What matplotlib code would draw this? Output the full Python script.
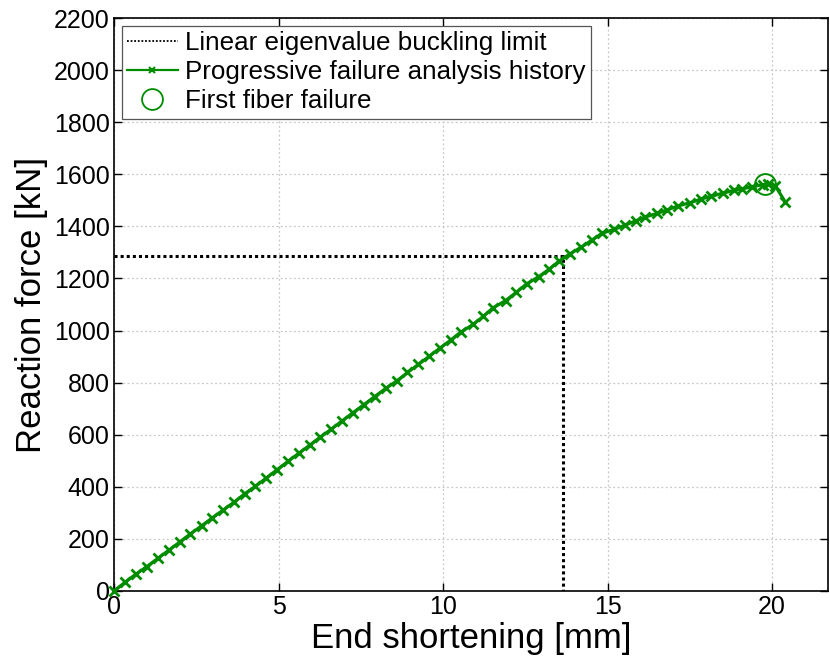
import matplotlib
matplotlib.use("Agg")
import matplotlib.pyplot as plt

plt.rcParams['font.family'] = ['Liberation Sans', 'DejaVu Sans']

# Progressive failure analysis history
shortening = [0.00, 0.33, 0.67, 1.00, 1.33, 1.67, 2.00, 2.31, 2.66, 2.99,
              3.32, 3.65, 3.97, 4.30, 4.63, 4.96, 5.29, 5.63, 5.95, 6.27,
              6.60, 6.93, 7.26, 7.59, 7.92, 8.26, 8.60, 8.92, 9.25, 9.58,
              9.91, 10.23, 10.54, 10.92, 11.22, 11.52, 11.90, 12.23, 12.54, 12.91,
              13.22, 13.52, 13.85, 14.20, 14.52, 14.84, 15.19, 15.52, 15.85, 16.15,
              16.51, 16.81, 17.13, 17.52, 17.84, 18.14, 18.52, 18.83, 19.10, 19.40,
              19.72, 19.88, 20.10, 20.40]
force = [0, 33, 65, 94, 125, 157, 188, 218, 250, 281,
         311, 341, 373, 402, 434, 466, 498, 530, 560, 591,
         621, 653, 684, 715, 746, 778, 807, 839, 870, 901,
         933, 963, 994, 1024, 1054, 1087, 1115, 1147, 1179, 1207,
         1235, 1266, 1294, 1320, 1347, 1374, 1388, 1404, 1421, 1436,
         1450, 1463, 1478, 1491, 1505, 1515, 1528, 1538, 1544, 1553,
         1560, 1561, 1555, 1494]

# Linear eigenvalue buckling limit
buckling_x = [0, 13.65, 13.65]
buckling_y = [1288, 1288, 0]

# First fiber failure
ffail_x = [19.80]
ffail_y = [1561]

fig = plt.figure(figsize=(8.3, 6.6), dpi=100)
ax = fig.add_axes([114/830, 1 - 591/660, (828-114)/830, (591-18)/660])

ax.plot(buckling_x, buckling_y, color='black', linestyle=(0, (1.0, 1.0)), lw=2.2,
        label='Linear eigenvalue buckling limit')
ax.plot(shortening, force, color='#008c00', lw=2.3, marker='x', markersize=7,
        markeredgewidth=2.0, label='Progressive failure analysis history',
        clip_on=False, zorder=3)
ax.plot(ffail_x, ffail_y, linestyle='none', marker='o', markersize=15,
        markerfacecolor='none', markeredgecolor='#008c00', markeredgewidth=1.4,
        label='First fiber failure', zorder=4)

ax.set_xlim(0, 21.7)
ax.set_ylim(0, 2200)
ax.set_xticks([0, 5, 10, 15, 20])
ax.set_yticks(range(0, 2201, 200))
ax.tick_params(direction='in', labelsize=18, length=6, top=True, right=True,
               width=1, pad=3)
ax.grid(True, color='#c8c8c8', linestyle=(0, (1.5, 2)), lw=0.9)
ax.set_axisbelow(True)
for s in ax.spines.values():
    s.set_linewidth(1.2)

ax.set_xlabel('End shortening [mm]', fontsize=25, labelpad=2)
ax.set_ylabel('Reaction force [kN]', fontsize=25, labelpad=4)

leg = ax.legend(loc='upper left', fontsize=18.7, frameon=True, fancybox=False,
                edgecolor='#555555', framealpha=1, borderpad=0.2,
                handlelength=1.95, handletextpad=0.28, labelspacing=0.2,
                borderaxespad=0.3)
leg.get_frame().set_linewidth(0.9)
lh = leg.get_lines()
lh[0].set_linewidth(1.3)
lh[1].set_linewidth(1.6)
lh[1].set_markersize(5)
lh[1].set_markeredgewidth(1.5)
lh[2].set_markersize(15)
lh[2].set_markeredgewidth(1.3)

fig.savefig('out.png', dpi=100)
